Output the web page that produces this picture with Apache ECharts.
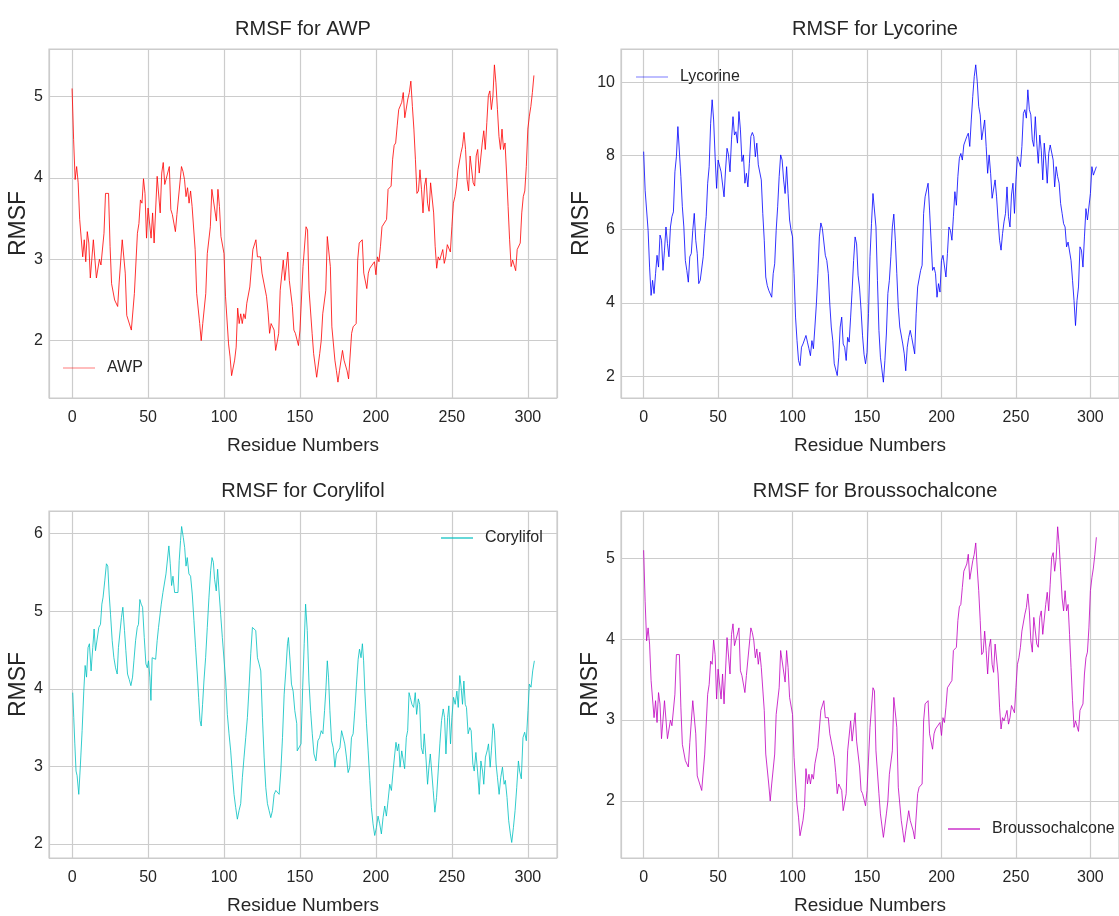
<!DOCTYPE html>
<html>
<head>
<meta charset="utf-8">
<title>RMSF</title>
<script src="https://cdn.jsdelivr.net/npm/echarts@6/dist/echarts.min.js"></script>
<style>
    html, body { margin: 0; padding: 0; background: #fff; }
    #main { width: 1119px; height: 916px; }
</style>
</head>
<body>
<div id="main"></div>
<script>
    // [residue, RMSF]
    const awp = [
        [0, 5.10], [1, 4.47], [2, 3.98], [3, 4.14], [4, 3.94], [5, 3.49], [6, 3.47], [7, 3.03], [8, 3.24], [9, 2.97],
        [10, 3.34], [11, 3.20], [12, 2.77], [14, 3.24], [16, 2.77], [18, 3.00], [19, 2.93], [21, 3.32], [22, 3.81], [24, 3.81],
        [25, 3.16], [26, 2.70], [28, 2.50], [30, 2.42], [31, 2.72], [32, 2.74], [33, 3.24], [35, 2.83], [36, 2.31], [37, 2.31],
        [39, 2.13], [41, 2.58], [43, 3.32], [44, 3.44], [45, 3.73], [46, 3.69], [47, 3.99], [48, 3.81], [49, 3.26], [50, 3.63],
        [51, 3.61], [52, 3.26], [53, 3.57], [54, 3.20], [56, 4.02], [57, 4.02], [58, 3.57], [59, 4.06], [60, 4.19], [61, 3.92],
        [62, 3.90], [64, 4.14], [65, 3.61], [66, 3.55], [68, 3.34], [69, 3.55], [72, 4.14], [73, 4.08], [74, 3.98], [75, 3.77],
        [76, 3.88], [77, 3.69], [78, 3.84], [79, 3.65], [81, 3.12], [82, 2.58], [84, 2.21], [85, 2.00], [86, 2.21], [88, 2.58],
        [89, 3.07], [91, 3.40], [92, 3.86], [93, 3.85], [95, 3.47], [96, 3.86], [97, 3.65], [98, 3.28], [100, 3.07], [101, 2.54],
        [103, 1.96], [104, 1.80], [105, 1.57], [107, 1.76], [108, 1.92], [109, 2.40], [110, 2.21], [111, 2.33], [112, 2.21], [113, 2.33],
        [114, 2.27], [115, 2.46], [117, 2.66], [119, 3.12], [120, 3.14], [121, 3.24], [122, 3.03], [124, 3.03], [125, 2.83], [126, 2.83],
        [128, 2.54], [129, 2.35], [130, 2.09], [131, 2.21], [132, 2.17], [133, 2.13], [134, 1.88], [136, 2.09], [137, 2.62], [138, 2.64],
        [139, 2.99], [140, 2.74], [142, 3.09], [143, 2.74], [145, 2.42], [146, 2.13], [147, 2.09], [149, 1.94], [150, 2.13], [152, 2.91],
        [154, 3.40], [155, 3.36], [156, 2.62], [158, 2.09], [159, 1.84], [161, 1.55], [163, 1.84], [164, 2.00], [165, 2.33], [167, 2.62],
        [168, 3.28], [169, 3.30], [170, 2.91], [171, 2.17], [173, 1.76], [174, 1.63], [175, 1.49], [176, 1.63], [178, 1.88], [179, 1.76],
        [181, 1.63], [182, 1.53], [184, 2.09], [185, 2.17], [187, 2.21], [188, 2.99], [189, 3.20], [191, 3.24], [192, 2.83], [194, 2.64],
        [195, 2.83], [196, 2.89], [197, 2.91], [199, 2.97], [200, 2.81], [201, 3.03], [202, 2.97], [203, 3.16], [204, 3.40], [205, 3.42],
        [207, 3.49], [208, 3.86], [210, 3.90], [211, 4.23], [212, 4.40], [213, 4.43], [214, 4.64], [215, 4.84], [216, 4.82], [217, 4.93],
        [218, 5.05], [219, 4.74], [220, 4.74], [221, 4.97], [222, 5.05], [223, 5.19], [224, 4.88], [225, 4.60], [226, 4.23], [227, 3.81],
        [228, 3.84], [229, 4.10], [230, 3.86], [231, 3.57], [232, 3.90], [233, 4.00], [234, 3.69], [235, 3.59], [236, 3.94], [237, 3.92],
        [238, 3.57], [239, 3.16], [240, 2.89], [241, 3.03], [242, 2.99], [244, 3.12], [245, 2.95], [246, 3.03], [247, 3.18], [248, 3.19],
        [249, 3.09], [250, 3.40], [251, 3.69], [252, 3.77], [253, 3.90], [254, 4.10], [256, 4.31], [257, 4.39], [258, 4.56], [259, 4.35],
        [260, 3.98], [261, 3.84], [262, 4.27], [263, 4.27], [264, 3.94], [265, 3.90], [266, 4.27], [267, 4.35], [268, 4.06], [269, 4.08],
        [270, 4.43], [271, 4.58], [272, 4.35], [273, 4.68], [274, 5.01], [275, 5.07], [276, 4.84], [277, 5.00], [278, 5.39], [279, 5.17],
        [280, 4.84], [281, 4.51], [282, 4.35], [283, 4.60], [284, 4.35], [285, 4.43], [286, 4.06], [287, 3.65], [288, 3.24], [289, 2.91],
        [290, 2.99], [292, 2.86], [293, 3.12], [294, 3.14], [295, 3.20], [296, 3.57], [297, 3.77], [298, 3.84], [299, 4.14], [300, 4.60],
        [301, 4.76], [302, 4.88], [303, 5.05], [304, 5.26]
    ];

    const lycorine = [
        [0, 8.11], [1, 7.06], [3, 5.97], [4, 4.97], [5, 4.20], [6, 4.61], [7, 4.25], [8, 4.79], [9, 5.29], [10, 4.97],
        [11, 5.84], [12, 5.70], [13, 4.88], [14, 5.43], [15, 6.06], [16, 5.61], [17, 5.25], [18, 6.06], [19, 6.34], [20, 6.47],
        [21, 7.56], [22, 7.97], [23, 8.79], [24, 8.77], [25, 7.43], [26, 6.61], [27, 6.06], [28, 5.15], [29, 4.88], [30, 4.56],
        [31, 5.25], [32, 5.34], [33, 5.97], [34, 6.43], [35, 5.70], [36, 5.34], [37, 4.52], [38, 4.61], [39, 4.61], [40, 5.25],
        [41, 5.88], [42, 6.34], [43, 7.25], [44, 7.70], [45, 8.88], [46, 9.52], [47, 8.97], [48, 7.97], [49, 7.11], [50, 7.88],
        [51, 7.84], [52, 7.56], [53, 7.61], [54, 6.88], [55, 7.61], [56, 8.20], [57, 8.02], [58, 7.56], [59, 8.43], [60, 9.06],
        [61, 8.56], [62, 8.65], [63, 8.34], [64, 9.20], [65, 8.70], [66, 7.84], [67, 8.02], [68, 7.25], [69, 7.52], [70, 7.15],
        [71, 7.79], [72, 8.52], [73, 8.63], [74, 8.52], [75, 7.97], [76, 8.34], [77, 7.75], [78, 7.79], [79, 7.34], [80, 6.43],
        [81, 5.70], [82, 4.70], [83, 4.47], [84, 4.34], [86, 4.15], [87, 4.79], [88, 5.06], [89, 5.97], [90, 6.61], [91, 7.43],
        [92, 8.02], [93, 7.88], [94, 7.34], [95, 6.97], [96, 7.70], [97, 6.97], [98, 6.25], [99, 5.97], [100, 5.79], [101, 4.79],
        [102, 3.61], [103, 2.97], [104, 2.43], [105, 2.29], [106, 2.79], [107, 2.88], [109, 3.11], [110, 2.93], [111, 2.75], [112, 2.56],
        [113, 2.97], [114, 2.75], [115, 3.34], [116, 3.97], [117, 4.79], [118, 5.79], [119, 6.17], [120, 6.02], [121, 5.97], [122, 5.29],
        [123, 5.15], [124, 4.79], [125, 3.97], [126, 3.34], [127, 2.97], [128, 2.34], [129, 2.29], [130, 2.02], [131, 2.52], [132, 3.34],
        [133, 3.61], [134, 2.88], [135, 2.79], [136, 2.43], [137, 3.06], [138, 2.93], [139, 3.61], [140, 4.34], [141, 5.15], [142, 5.79],
        [143, 5.60], [144, 4.75], [145, 4.40], [146, 3.80], [147, 3.10], [148, 2.60], [149, 2.34], [150, 2.65], [151, 3.70], [152, 5.25],
        [153, 6.15], [154, 6.97], [155, 7.02], [156, 6.06], [157, 4.61], [158, 3.25], [159, 2.52], [161, 1.84], [162, 2.43], [163, 3.15],
        [164, 4.25], [165, 4.61], [166, 5.25], [167, 6.06], [168, 6.41], [169, 5.70], [170, 4.79], [171, 3.88], [172, 3.34], [174, 2.88],
        [175, 2.61], [176, 2.15], [177, 2.79], [178, 3.06], [179, 3.25], [180, 3.06], [181, 3.02], [182, 2.61], [183, 3.70], [184, 4.43],
        [185, 4.43], [186, 4.88], [187, 5.02], [188, 6.43], [189, 6.88], [191, 7.25], [192, 6.52], [193, 5.70], [194, 4.88], [195, 4.97],
        [196, 4.79], [197, 4.15], [198, 4.52], [199, 4.29], [200, 5.15], [201, 5.29], [203, 4.70], [204, 5.34], [205, 6.06], [206, 5.97],
        [207, 5.70], [208, 6.34], [209, 7.02], [210, 6.65], [211, 7.43], [212, 7.93], [213, 8.06], [214, 7.88], [215, 8.29], [217, 8.52],
        [218, 8.61], [219, 8.25], [220, 8.97], [221, 9.61], [222, 10.15], [223, 10.47], [224, 10.02], [225, 9.34], [226, 9.11], [227, 8.43],
        [228, 8.70], [229, 8.97], [230, 8.25], [231, 7.52], [232, 8.02], [233, 7.52], [234, 6.84], [235, 6.88], [236, 7.34], [237, 6.88],
        [238, 6.25], [239, 5.70], [240, 5.43], [241, 5.88], [242, 6.20], [243, 6.43], [244, 7.15], [245, 6.34], [246, 6.06], [247, 6.93],
        [248, 7.25], [249, 6.43], [250, 7.34], [251, 7.97], [252, 8.02], [253, 7.70], [254, 8.25], [255, 9.15], [256, 9.25], [257, 9.02],
        [258, 9.79], [259, 9.25], [260, 9.11], [261, 8.43], [262, 8.25], [263, 9.06], [264, 8.34], [265, 7.79], [266, 8.56], [267, 8.15],
        [268, 7.34], [269, 8.34], [270, 7.88], [271, 7.25], [272, 8.06], [273, 8.29], [275, 7.88], [276, 7.15], [277, 7.70], [278, 7.43],
        [279, 7.25], [280, 6.70], [281, 6.43], [282, 6.15], [283, 6.06], [284, 5.52], [285, 5.65], [287, 5.15], [288, 4.61], [289, 4.06],
        [290, 3.38], [291, 4.06], [292, 4.43], [293, 5.52], [294, 5.43], [295, 4.97], [296, 5.79], [297, 6.56], [298, 6.25], [299, 6.25],
        [300, 6.97], [301, 7.70], [302, 7.47], [303, 7.43], [304, 7.70]
    ];

    const corylifol = [
        [0.4, 3.95], [1.1, 3.63], [1.8, 3.29], [2.6, 2.94], [3.3, 2.88], [4.4, 2.64], [5.5, 3.03], [6.6, 3.46], [7.7, 3.97], [8.6, 4.30],
        [9.5, 4.15], [10.5, 4.53], [11.4, 4.58], [12.5, 4.23], [13.6, 4.53], [14.5, 4.77], [15.4, 4.49], [16.5, 4.64], [17.6, 4.79], [18.7, 4.83],
        [19.6, 5.09], [20.4, 5.18], [21.5, 5.39], [22.6, 5.61], [23.5, 5.58], [24.4, 5.22], [25.3, 4.96], [26.4, 4.62], [27.5, 4.40], [28.6, 4.27],
        [29.7, 4.19], [30.5, 4.53], [31.6, 4.53], [32.5, 4.92], [33.4, 5.05], [34.5, 4.75], [35.4, 4.49], [36.5, 4.19], [37.6, 4.12], [38.7, 4.04],
        [39.8, 4.15], [40.7, 4.36], [41.8, 4.62], [42.9, 4.79], [43.7, 4.83], [44.6, 5.15], [45.5, 5.09], [46.4, 5.05], [47.5, 4.66], [48.6, 4.32],
        [49.5, 4.27], [50.3, 4.36], [51.2, 4.15], [51.9, 3.85], [52.7, 4.40], [53.8, 4.40], [55.0, 4.38], [56.0, 4.62], [56.9, 4.79], [57.8, 4.79],
        [58.7, 5.09], [59.8, 5.24], [60.9, 5.26], [61.8, 5.48], [62.6, 5.50], [63.7, 5.84], [64.6, 5.61], [65.5, 5.33], [66.4, 5.45], [67.5, 5.24],
        [68.6, 5.26], [69.7, 5.24], [70.5, 5.65], [71.4, 5.91], [72.1, 6.09], [73.2, 5.95], [74.1, 5.82], [75.0, 5.58], [75.8, 5.69], [76.9, 5.48],
        [78.0, 5.45], [79.1, 5.22], [80.2, 4.88], [81.3, 4.53], [82.4, 4.19], [83.3, 3.89], [84.2, 3.59], [85.0, 3.52], [85.9, 3.80], [86.8, 4.10],
        [87.9, 4.40], [89.0, 4.79], [90.1, 5.18], [91.2, 5.52], [92.1, 5.69], [93.0, 5.63], [93.8, 5.41], [94.9, 5.26], [95.8, 5.54], [96.7, 5.26],
        [97.8, 4.96], [98.9, 4.66], [100.0, 4.64], [101.1, 4.10], [102.2, 3.67], [103.3, 3.42], [104.4, 3.20], [105.5, 2.90], [106.6, 2.64], [107.7, 2.47],
        [108.8, 2.32], [109.9, 2.43], [111.0, 2.52], [112.1, 2.86], [113.2, 3.12], [114.3, 3.37], [115.4, 3.63], [116.5, 4.02], [117.6, 4.45], [118.7, 4.79],
        [119.8, 4.81], [120.9, 4.75], [122.0, 4.40], [123.1, 4.32], [124.2, 4.23], [125.3, 3.63], [126.4, 3.12], [127.5, 2.73], [128.6, 2.52], [129.7, 2.43],
        [130.8, 2.34], [131.9, 2.43], [133.0, 2.64], [134.1, 2.69], [135.2, 2.69], [136.3, 2.64], [137.4, 2.94], [138.5, 3.37], [139.6, 3.93], [140.7, 4.23],
        [141.8, 4.58], [142.4, 4.66], [143.5, 4.36], [144.4, 4.06], [145.5, 3.97], [146.6, 3.72], [147.9, 3.55], [148.2, 3.20], [149.6, 3.25], [150.7, 3.29],
        [151.8, 4.02], [152.8, 4.58], [153.7, 5.09], [154.8, 4.75], [155.9, 4.10], [157.0, 3.72], [158.1, 3.42], [159.2, 3.16], [160.5, 3.07], [161.8, 3.33],
        [162.9, 3.37], [164.0, 3.46], [165.1, 3.42], [166.2, 3.72], [167.0, 3.97], [168.0, 4.36], [168.8, 4.15], [169.7, 3.72], [170.8, 3.33], [171.9, 3.24],
        [173.0, 2.99], [174.0, 3.16], [175.2, 3.20], [176.3, 3.24], [177.4, 3.46], [178.4, 3.47], [179.5, 3.29], [180.6, 3.12], [181.7, 2.92], [182.8, 2.99],
        [183.9, 3.37], [185.0, 3.42], [186.1, 3.72], [187.2, 4.06], [188.3, 4.38], [189.2, 4.51], [190.2, 4.40], [191.1, 4.58], [191.9, 4.36], [192.7, 3.97],
        [193.8, 3.55], [194.9, 3.20], [196.0, 2.82], [197.0, 2.47], [198.1, 2.26], [199.2, 2.11], [200.3, 2.21], [201.4, 2.36], [202.5, 2.26], [203.6, 2.13],
        [204.7, 2.34], [205.8, 2.49], [206.9, 2.36], [208.0, 2.56], [209.1, 2.77], [210.2, 2.69], [211.3, 2.94], [212.4, 3.16], [213.2, 3.31], [214.1, 3.20],
        [215.0, 3.29], [215.9, 2.99], [217.0, 3.20], [218.1, 3.18], [218.9, 2.97], [220.0, 3.37], [220.9, 3.46], [221.8, 3.95], [222.6, 3.89], [223.7, 3.80],
        [224.8, 3.76], [225.9, 3.95], [226.8, 3.67], [227.9, 3.87], [228.8, 3.80], [229.9, 3.24], [231.0, 3.16], [231.8, 3.42], [232.9, 3.12], [234.0, 2.77],
        [234.9, 2.99], [235.8, 3.16], [236.7, 2.94], [237.7, 2.69], [238.8, 2.41], [239.9, 2.60], [241.0, 2.94], [242.1, 3.29], [243.2, 3.59], [244.3, 3.74],
        [245.2, 3.63], [246.1, 3.16], [247.2, 3.63], [248.0, 3.78], [249.1, 3.29], [250.0, 3.63], [251.1, 3.89], [252.2, 3.80], [253.3, 3.97], [254.2, 3.76],
        [255.2, 4.17], [256.1, 4.02], [257.0, 3.80], [257.9, 4.10], [258.8, 3.80], [259.6, 3.76], [260.7, 3.42], [261.8, 3.50], [262.7, 3.46], [263.8, 3.03],
        [264.7, 2.94], [265.8, 3.18], [266.9, 2.94], [268.0, 2.64], [269.1, 3.07], [270.2, 2.94], [271.0, 2.77], [272.1, 3.12], [273.2, 3.20], [274.1, 3.29],
        [275.2, 2.99], [276.0, 3.20], [277.1, 3.55], [278.0, 3.46], [279.1, 3.03], [280.0, 2.86], [281.1, 2.64], [282.2, 2.86], [283.3, 2.99], [284.4, 2.77],
        [285.2, 2.82], [286.3, 2.60], [287.4, 2.30], [288.5, 2.13], [289.4, 2.02], [290.5, 2.21], [291.6, 2.43], [292.7, 2.73], [293.8, 3.07], [294.6, 2.94],
        [295.7, 2.84], [296.8, 3.37], [297.9, 3.44], [299.0, 3.33], [300.1, 3.72], [301.0, 4.06], [302.1, 4.02], [303.2, 4.23], [304.3, 4.36]
    ];

    // the Broussochalcone panel shows the very same trace as the AWP one
    const broussochalcone = awp;

    const names = ['AWP', 'Lycorine', 'Corylifol', 'Broussochalcone'];
    const traces = [awp, lycorine, corylifol, broussochalcone];
    const colors = ['#ff0000', '#0000ff', '#00bfbf', '#bf00bf'];
    const legendColors = ['rgba(255,0,0,0.35)', 'rgba(0,0,255,0.35)', 'rgba(0,191,191,0.8)', 'rgba(191,0,191,0.8)'];
    const yRanges = [[1.295, 5.585], [1.41, 10.9], [1.82, 6.29], [1.295, 5.585]];
    const ySplits = [4, 5, 4, 4];

    const font = "'Liberation Sans', Arial, sans-serif";
    const ink = '#262626';
    const light = '#cccccc';

    // plot boxes, matplotlib 2x2 layout (right column runs past the canvas edge)
    const boxes = [[49, 49], [621, 49], [49, 511], [621, 511]];
    const boxW = 508, boxH = 349;
    const legendPos = [[63, 360], [636, 69], [441, 530], [948, 821]];

    const chart = echarts.init(document.getElementById('main'));
    chart.setOption({
        animation: false,
        backgroundColor: '#ffffff',
        textStyle: {fontFamily: font},
        title: names.map((n, i) => ({
            text: 'RMSF for ' + n,
            left: boxes[i][0] + boxW / 2, top: boxes[i][1] - 30,
            textAlign: 'center', padding: 0,
            textStyle: {fontSize: 20, fontWeight: 'normal', color: ink, fontFamily: font}
        })),
        grid: boxes.map(b => ({
            left: b[0], top: b[1], width: boxW, height: boxH,
            show: true, borderColor: light, borderWidth: 1.2, backgroundColor: '#fff'
        })),
        xAxis: names.map((n, i) => ({
            type: 'value', gridIndex: i, min: -15.2, max: 319.2, splitNumber: 7,
            axisLine: {show: false}, axisTick: {show: false},
            axisLabel: {color: ink, fontSize: 16, margin: 12, showMinLabel: false, showMaxLabel: false},
            splitLine: {show: true, lineStyle: {color: light, width: 1.2}},
            name: 'Residue Numbers', nameLocation: 'middle', nameGap: 38,
            nameTextStyle: {color: ink, fontSize: 19}
        })),
        yAxis: names.map((n, i) => ({
            type: 'value', gridIndex: i, min: yRanges[i][0], max: yRanges[i][1], splitNumber: ySplits[i],
            axisLine: {show: false}, axisTick: {show: false},
            axisLabel: {color: ink, fontSize: 16, margin: 6, showMinLabel: false, showMaxLabel: false},
            splitLine: {show: true, lineStyle: {color: light, width: 1.2}},
            name: 'RMSF', nameLocation: 'middle', nameGap: 16,
            nameTextStyle: {color: ink, fontSize: 23}
        })),
        legend: names.map((n, i) => ({
            data: [n], left: legendPos[i][0], top: legendPos[i][1], padding: 0,
            icon: 'rect', itemWidth: 32, itemHeight: 1.5, selectedMode: false,
            itemStyle: {color: legendColors[i]},
            textStyle: {color: ink, fontSize: 16, padding: [0, 0, 0, 7]}
        })),
        series: names.map((n, i) => ({
            name: n, type: 'line', xAxisIndex: i, yAxisIndex: i,
            data: traces[i], showSymbol: false, symbol: 'none', silent: true,
            lineStyle: {color: colors[i], width: 0.8}, itemStyle: {color: colors[i]}
        }))
    });
</script>
</body>
</html>
